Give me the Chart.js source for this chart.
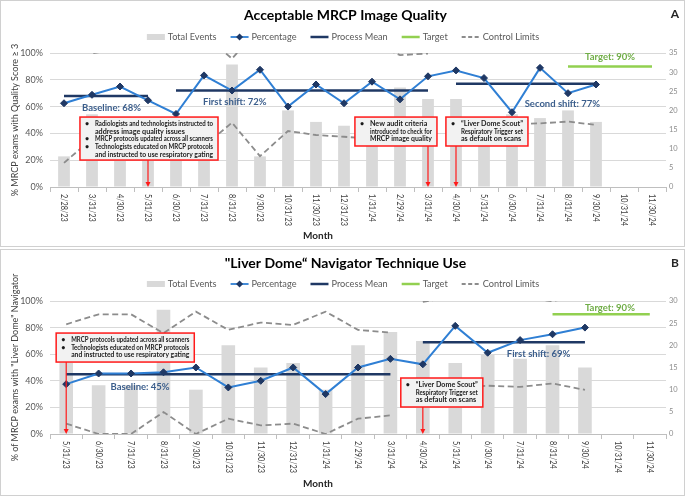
<!DOCTYPE html>
<html>
<head>
<meta charset="utf-8">
<script src="https://cdn.jsdelivr.net/npm/chart.js@4.4.0/dist/chart.umd.min.js"></script>
<style>
  body { margin: 0; background: #fff; width: 685px; height: 496px; position: relative; overflow: hidden; font-family: Lato, sans-serif; }
  .panel { position: absolute; left: 0; width: 683px; height: 245px; border: 1px solid #d0d0d0; background: #fff; }
  #panelA { top: 0; }
  #panelB { top: 249px; }
  canvas { display: block; }
</style>
</head>
<body>
<div class="panel" id="panelA"><canvas id="graficoA" width="683" height="245"></canvas></div>
<div class="panel" id="panelB"><canvas id="graficoB" width="683" height="245"></canvas></div>
<script>
// ---- Panel A: Acceptable MRCP Image Quality ----
const mesesA = ['2/28/23', '3/31/23', '4/30/23', '5/31/23', '6/30/23', '7/31/23', '8/31/23', '9/30/23', '10/31/23', '11/30/23', '12/31/23',
  '1/31/24', '2/29/24', '3/31/24', '4/30/24', '5/31/24', '6/30/24', '7/31/24', '8/31/24', '9/30/24', '10/31/24', '11/30/24'];
const eventosA = [8, 19, 16, 17, 11, 12, 32, 8, 20, 17, 16, 14, 26, 23, 23, 16, 19, 18, 20, 17, null, null];
const porcentajeA = [62.5, 68.8, 75, 64.7, 54.5, 83.3, 72, 87.5, 60, 76.5, 62.5, 78.6, 65.4, 82.6, 87, 81.3, 55.8, 88.9, 70, 76.5, null, null];
const lscA = [117.5, 99.8, 103, 101.9, 112.5, 113.5, 95.8, 119.6, 102, 104.7, 105.7, 108, 98.4, 99.6, 103.3, 108.6, 106, 106.8, 105.2, 107.6, null, null];
const licA = [18, 36, 33, 34, 31.5, 30.5, 48, 23, 41.8, 38.8, 37.5, 36, 45.6, 44, 50.7, 45.4, 47, 47.5, 48.8, 46.3, null, null];
const mediasA = [68, 72, 77];
const tramosA = [[0, 3], [4, 13], [14, 19]];
const metaA = 90;
const tramoMetaA = [18, 21];

// ---- Panel B: "Liver Dome" Navigator Technique Use ----
const mesesB = ['5/31/23', '6/30/23', '7/31/23', '8/31/23', '9/30/23', '10/31/23', '11/30/23', '12/31/23', '1/31/24', '2/29/24',
  '3/31/24', '4/30/24', '5/31/24', '6/30/24', '7/31/24', '8/31/24', '9/30/24', '10/31/24', '11/30/24'];
const eventosB = [16, 11, 11, 28, 10, 20, 15, 16, 10, 20, 23, 21, 16, 18, 17, 20, 15, null, null];
const porcentajeB = [37.5, 45.5, 45.5, 46.4, 50, 35, 40, 50, 30, 50, 56.5, 52.4, 81.3, 61.1, 70.6, 75, 80, null, null];
const lscB = [82.5, 90, 90, 75.8, 92, 78.3, 83.8, 82, 92, 78.3, 76.3, 99.3, 103.7, 101.7, 102.6, 99.9, 104.8, null, null];
const licB = [7.8, 0, 0, 16.5, 0, 11.5, 6.5, 7.8, 0, 11.5, 14, 38.7, 34.3, 36.3, 35.4, 38, 33.2, null, null];
const mediasB = [45, 69];
const tramosB = [[0, 10], [11, 16]];
const metaB = 90;
const tramoMetaB = [15, 18];

// anotaciones (x en indice de mes, y en %)
const cajasA = [
  { x0: 0.57, x1: 5.5, y0: 52.2, y1: 20.1, flecha: 3, lineas: ['• Radiologists and technologists instructed to', 'address image quality issues', '• MRCP protocols updated across all scanners', '• Technologists educated on MRCP protocols', 'and instructed to use respiratory gating'] },
  { x0: 10.39, x1: 13.32, y0: 52.2, y1: 30.6, flecha: 13, lineas: ['• New audit criteria', 'introduced to check for', 'MRCP image quality'] },
  { x0: 13.64, x1: 16.57, y0: 52.2, y1: 30.6, flecha: 14, lineas: ['• “Liver Dome Scout”', 'Respiratory Trigger set', 'as default on scans'] }
];
const etiquetasA = [
  { texto: 'Baseline: 68%', x: 1.7, y: 59 },
  { texto: 'First shift: 72%', x: 6.1, y: 63.4 },
  { texto: 'Second shift: 77%', x: 17.8, y: 62 },
  { texto: 'Target: 90%', x: 19.5, y: 97, verde: true }
];
const cajasB = [
  { x0: -0.31, x1: 3.95, y0: 75.9, y1: 54.1, flecha: 0, lineas: ['• MRCP protocols updated across all scanners', '• Technologists educated on MRCP protocols', 'and instructed to use respiratory gating'] },
  { x0: 10.32, x1: 12.85, y0: 42.1, y1: 20.3, flecha: 11, lineas: ['• “Liver Dome Scout”', 'Respiratory Trigger set', 'as default on scans'] }
];
const etiquetasB = [
  { texto: 'Baseline: 45%', x: 2.28, y: 35.3 },
  { texto: 'First shift: 69%', x: 14.57, y: 60.2 },
  { texto: 'Target: 90%', x: 16.77, y: 94.7, verde: true }
];

const AZUL = '#2f7fd4', MARINO = '#1f3864', VERDE = '#92d050', GRIS = '#8c8c8c', BARRA = '#d9d9d9';

const extras = {
  id: 'extras',
  afterDatasetsDraw(chart, args, o) {
    const { ctx, chartArea: a, scales: { x, y } } = chart;
    ctx.save();
    // meses girados
    ctx.font = '8.5px Lato';
    ctx.fillStyle = '#404040';
    ctx.textAlign = 'left';
    ctx.textBaseline = 'middle';
    o.meses.forEach((m, i) => {
      ctx.save();
      ctx.translate(x.getPixelForValue(i), a.bottom + 7);
      ctx.rotate(Math.PI / 2);
      ctx.scale(0.86, 1);
      ctx.fillText(m, 0, 0);
      ctx.restore();
    });
    // cajas con flecha
    o.cajas.forEach(c => {
      const x0 = x.getPixelForValue(c.x0), x1 = x.getPixelForValue(c.x1);
      const y0 = y.getPixelForValue(c.y0), y1 = y.getPixelForValue(c.y1);
      const fx = x.getPixelForValue(c.flecha);
      ctx.strokeStyle = '#ff1a1a';
      ctx.fillStyle = '#ff1a1a';
      ctx.lineWidth = 1.2;
      ctx.beginPath(); ctx.moveTo(fx, y1); ctx.lineTo(fx, a.bottom - 4); ctx.stroke();
      ctx.beginPath(); ctx.moveTo(fx - 2.5, a.bottom - 5); ctx.lineTo(fx + 2.5, a.bottom - 5); ctx.lineTo(fx, a.bottom); ctx.fill();
      ctx.fillStyle = '#f2f2f2';
      ctx.fillRect(x0, y0, x1 - x0, y1 - y0);
      ctx.lineWidth = 1.5;
      ctx.strokeRect(x0, y0, x1 - x0, y1 - y0);
      ctx.fillStyle = '#1a1a1a';
      ctx.font = 'bold 7.2px Lato';
      ctx.textAlign = 'left';
      c.lineas.forEach((l, k) => {
        const ty = y0 + 6.8 + k * 7.6;
        if (l.startsWith('• ')) ctx.fillText('•', x0 + 5, ty);
        ctx.fillText(l.replace('• ', ''), x0 + 15, ty, x1 - x0 - 20);
      });
    });
    // etiquetas de fases
    ctx.font = 'bold 9.5px Lato';
    ctx.textAlign = 'center';
    o.etiquetas.forEach(e => {
      ctx.fillStyle = e.verde ? '#70ad47' : '#3b5e8c';
      ctx.fillText(e.texto, x.getPixelForValue(e.x), y.getPixelForValue(e.y));
    });
    ctx.restore();
  },
  afterDraw(chart, args, o) {
    const { ctx } = chart;
    ctx.save();
    // leyenda
    const items = [
      { t: 'Total Events', tipo: 'caja' },
      { t: 'Percentage', tipo: 'linea', c: AZUL, marca: true },
      { t: 'Process Mean', tipo: 'linea', c: MARINO, w: 2.5 },
      { t: 'Target', tipo: 'linea', c: VERDE, w: 2.5 },
      { t: 'Control Limits', tipo: 'linea', c: GRIS, dash: true }
    ];
    ctx.font = '9.2px Lato';
    ctx.textBaseline = 'middle';
    ctx.textAlign = 'left';
    const anchos = items.map(it => 21 + ctx.measureText(it.t).width);
    const total = anchos.reduce((s, v) => s + v, 0) + 14 * (items.length - 1);
    let px = 342 - total / 2;
    const py = o.leyendaY;
    items.forEach((it, k) => {
      if (it.tipo === 'caja') {
        ctx.fillStyle = BARRA;
        ctx.fillRect(px, py - 3, 18, 6);
      } else {
        ctx.strokeStyle = it.c;
        ctx.lineWidth = it.w || 1.8;
        ctx.setLineDash(it.dash ? [4, 2.5] : []);
        ctx.beginPath(); ctx.moveTo(px, py); ctx.lineTo(px + 18, py); ctx.stroke();
        ctx.setLineDash([]);
        if (it.marca) {
          ctx.fillStyle = MARINO;
          ctx.beginPath(); ctx.moveTo(px + 9, py - 3.5); ctx.lineTo(px + 12.5, py); ctx.lineTo(px + 9, py + 3.5); ctx.lineTo(px + 5.5, py); ctx.fill();
        }
      }
      ctx.fillStyle = '#595959';
      ctx.fillText(it.t, px + 21, py);
      px += anchos[k] + 14;
    });
    // titulo de eje x y letra del panel
    ctx.fillStyle = '#262626';
    ctx.font = 'bold 10px Lato';
    ctx.textAlign = 'center';
    ctx.fillText('Month', 317, o.mesY);
    ctx.font = 'bold 12px Lato';
    ctx.fillText(o.letra, 674, 13);
    ctx.restore();
  }
};

function crearGrafico(id, d) {
  const tramoDatos = (valores, i0, i1) => d.meses.map((_, i) => (i >= i0 && i <= i1 ? valores[i] : null));
  const datasets = [{
    type: 'line', label: 'Percentage', data: d.porcentaje, yAxisID: 'y', order: 0,
    borderColor: AZUL, borderWidth: 2, pointStyle: 'rectRot', pointRadius: 3.5,
    pointBackgroundColor: MARINO, pointBorderColor: MARINO, pointBorderWidth: 1
  }];
  d.tramos.forEach(([i0, i1], k) => {
    datasets.push({
      type: 'line', label: 'Process Mean', yAxisID: 'y', order: 1,
      data: d.meses.map((_, i) => (i >= i0 && i <= i1 ? d.medias[k] : null)),
      borderColor: MARINO, borderWidth: 2.5, pointRadius: 0
    });
    [d.lsc, d.lic].forEach(lim => datasets.push({
      type: 'line', label: 'Control Limits', yAxisID: 'y', order: 2,
      data: tramoDatos(lim, i0, i1), borderColor: GRIS, borderWidth: 1.8, borderDash: [6, 3.5], pointRadius: 0
    }));
  });
  datasets.push({
    type: 'line', label: 'Target', yAxisID: 'y', order: 1,
    data: d.meses.map((_, i) => (i >= d.tramoMeta[0] && i <= d.tramoMeta[1] ? d.meta : null)),
    borderColor: VERDE, borderWidth: 2.5, pointRadius: 0
  });
  datasets.push({
    type: 'bar', label: 'Total Events', yAxisID: 'y1', order: 5,
    data: d.eventos, backgroundColor: BARRA, barPercentage: 0.42, categoryPercentage: 1
  });

  return new Chart(document.getElementById(id), {
    type: 'bar',
    data: { labels: d.meses, datasets },
    plugins: [extras],
    options: {
      responsive: false,
      animation: false,
      devicePixelRatio: 1,
      layout: { padding: { left: 6, right: 0, top: 0, bottom: 0 } },
      plugins: {
        legend: { display: false },
        tooltip: { enabled: false },
        title: {
          display: true, text: d.titulo, color: '#000',
          font: { family: 'Lato', size: 14, weight: 'bold' },
          padding: { top: d.tituloTop, bottom: d.top - d.tituloTop - 16.8 }
        },
        extras: { meses: d.meses, cajas: d.cajas, etiquetas: d.etiquetas, leyendaY: d.leyendaY, mesY: d.mesY, letra: d.letra }
      },
      scales: {
        x: {
          offset: true,
          grid: { display: true, offset: true, drawOnChartArea: false, drawTicks: true, tickLength: 5, color: '#bfbfbf' },
          border: { display: true, color: '#bfbfbf' },
          ticks: { display: false },
          afterFit(s) { s.height = 245 - d.bottom; }
        },
        y: {
          position: 'left', min: 0, max: 100,
          ticks: { stepSize: 10, callback: v => v + '%', color: '#595959', font: { family: 'Lato', size: 9 }, padding: 7 },
          grid: { color: '#d9d9d9', drawTicks: false },
          border: { display: false },
          title: { display: true, text: d.tituloY, color: '#404040', font: { family: 'Lato', size: 9 }, padding: { top: 3, bottom: 0 } },
          afterFit(s) { s.width = 43; }
        },
        y1: {
          position: 'right', min: 0, max: d.maxEventos,
          ticks: { stepSize: 5, color: '#8c8c8c', font: { family: 'Lato', size: 7.5 }, padding: 3 },
          grid: { drawOnChartArea: false, drawTicks: false },
          border: { display: false },
          afterFit(s) { s.width = 18; }
        }
      }
    }
  });
}

crearGrafico('graficoA', {
  titulo: 'Acceptable MRCP Image Quality', tituloY: '% MRCP exams with Quality Score ≥ 3', letra: 'A',
  meses: mesesA, eventos: eventosA, porcentaje: porcentajeA, lsc: lscA, lic: licA,
  medias: mediasA, tramos: tramosA, meta: metaA, tramoMeta: tramoMetaA, maxEventos: 35,
  cajas: cajasA, etiquetas: etiquetasA, top: 52, bottom: 186, tituloTop: 6, leyendaY: 36, mesY: 235
});
crearGrafico('graficoB', {
  titulo: '"Liver Dome“ Navigator Technique Use', tituloY: '% of MRCP exams with "Liver Dome" Navigator', letra: 'B',
  meses: mesesB, eventos: eventosB, porcentaje: porcentajeB, lsc: lscB, lic: licB,
  medias: mediasB, tramos: tramosB, meta: metaB, tramoMeta: tramoMetaB, maxEventos: 30,
  cajas: cajasB, etiquetas: etiquetasB, top: 51, bottom: 184, tituloTop: 5, leyendaY: 34, mesY: 234
});
</script>
</body>
</html>
